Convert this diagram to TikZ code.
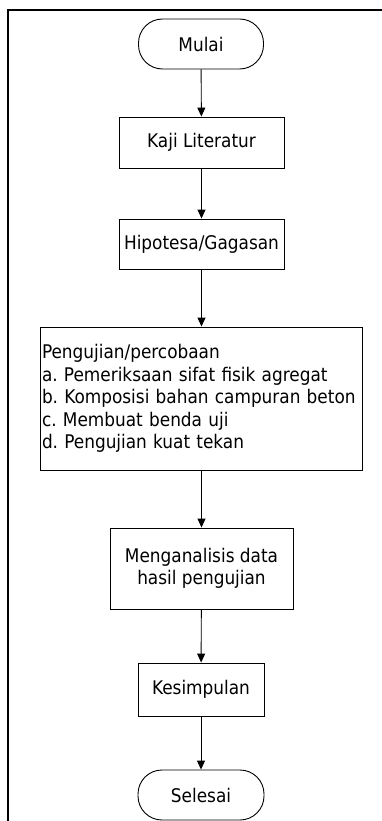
\documentclass[tikz,border=0pt]{standalone}
\usepackage{fontspec}
\setmainfont{DejaVu Sans Condensed}
\usetikzlibrary{arrows.meta}
\tikzset{
  flowbox/.style={draw,line width=0.9pt,inner sep=3pt,align=center,font=\fontsize{18.8}{22.5}\selectfont\frenchspacing},
  termbox/.style={flowbox,rounded corners=24pt},
  flowarrow/.style={draw,line width=0.9pt,-{Triangle[length=9pt,width=8pt]}}
}
\begin{document}
\begin{tikzpicture}[x=1pt,y=-1pt]
\useasboundingbox (0,0) rectangle (382,821);
% frame
\draw[line width=2pt] (8,821) -- (8,10) -- (382,10);
% nodes
\node[termbox,minimum width=125pt,minimum height=50pt] (mulai) at (201,44) {Mulai};
\node[flowbox,minimum width=165pt,minimum height=51pt] (kaji) at (201.5,142.5) {Kaji Literatur};
\node[flowbox,minimum width=165pt,minimum height=50pt] (hipotesa) at (201.5,244) {Hipotesa/Gagasan};
\node[flowbox,align=left,inner xsep=2pt,text width=318pt,minimum height=143pt] (uji) at (201,398.5) {Pengujian/percobaan\\
a. Pemeriksaan sifat fisik agregat\\
b. Komposisi bahan campuran beton\\
c. Membuat benda uji\\
d. Pengujian kuat tekan};
\node[flowbox,minimum width=183pt,minimum height=81pt] (analisis) at (201.5,568.5) {Menganalisis data\\hasil pengujian};
\node[flowbox,minimum width=126pt,minimum height=53pt] (simpulan) at (201,689.5) {Kesimpulan};
\node[termbox,minimum width=126pt,minimum height=50pt] (selesai) at (201,795) {Selesai};
% connectors
\draw[flowarrow] (mulai) -- (kaji);
\draw[flowarrow] (kaji) -- (hipotesa);
\draw[flowarrow] (hipotesa.south) -- (hipotesa.south |- uji.north);
\draw[flowarrow] (uji.south -| analisis.north) -- (analisis.north);
\draw[flowarrow] (analisis) -- (simpulan);
\draw[flowarrow] (simpulan) -- (selesai);
\end{tikzpicture}
\end{document}
